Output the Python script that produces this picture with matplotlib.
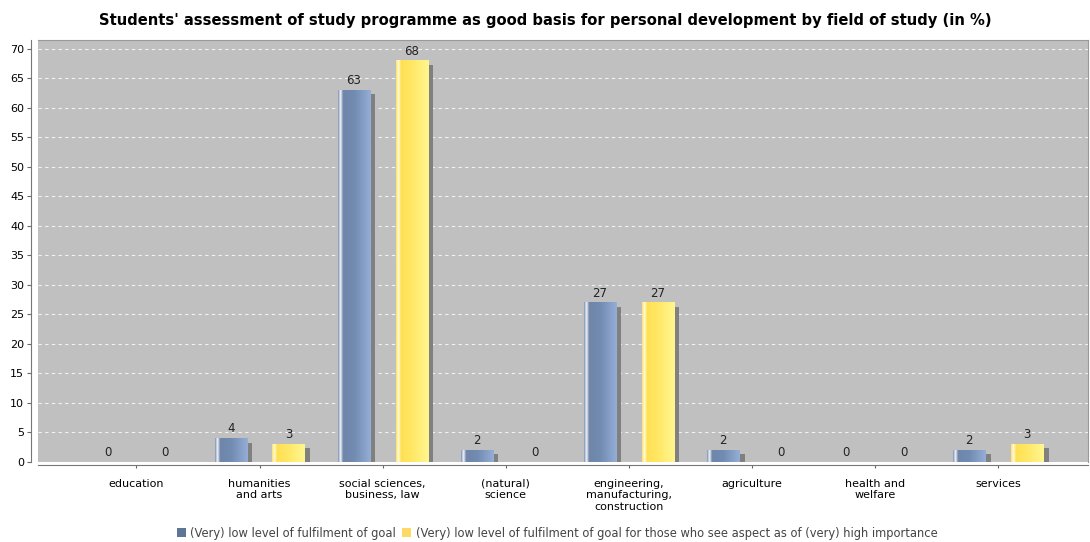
import numpy as np
import matplotlib.pyplot as plt
from matplotlib.patches import Rectangle
from matplotlib.colors import LinearSegmentedColormap

categories = ['education', 'humanities\nand arts', 'social sciences,\nbusiness, law',
              '(natural)\nscience', 'engineering,\nmanufacturing,\nconstruction',
              'agriculture', 'health and\nwelfare', 'services']
low_fulfilment = [0, 4, 63, 2, 27, 2, 0, 2]
low_fulfilment_important = [0, 3, 68, 0, 27, 0, 0, 3]
series_names = ['(Very) low level of fulfilment of goal',
                '(Very) low level of fulfilment of goal for those who see aspect as of (very) high importance']

fig = plt.figure(figsize=(10.9, 5.42), dpi=100)
ax = fig.add_axes([38 / 1090, 1 - 462 / 542, 1050 / 1090, 422 / 542])
ax.set_facecolor('#c0c0c0')

x = np.arange(len(categories))
w = 0.26
off = 0.235

blue_cmap = LinearSegmentedColormap.from_list(
    'b', [(0, '#8297b8'), (0.07, '#f4f6fa'), (0.15, '#6f86aa'), (0.5, '#728bb1'), (1, '#95aed6')])
yel_cmap = LinearSegmentedColormap.from_list(
    'y', [(0, '#ffe46a'), (0.07, '#fffbe0'), (0.15, '#ffe052'), (0.5, '#ffe866'), (1, '#fff690')])
grad = np.linspace(0, 1, 64).reshape(1, -1)

# shadow offset in data units
sx = 0.045
sy = 0.7

for vals, sign, cmap in [(low_fulfilment, -1, blue_cmap), (low_fulfilment_important, 1, yel_cmap)]:
    for xi, v in zip(x, vals):
        if v <= 0:
            continue
        left = xi + sign * off - w / 2
        ax.add_patch(Rectangle((left + sx, 0), w, v - sy, facecolor='#808080', edgecolor='none', zorder=2))
        ax.imshow(grad, cmap=cmap, aspect='auto', extent=(left, left + w, 0, v), zorder=3)
        ax.text(left + w / 2, v + 0.5, str(v), ha='center', va='bottom', fontsize=8.5, color='#222222', zorder=4)
    for xi, v in zip(x, vals):
        if v == 0:
            ax.text(xi + sign * off, 0.5, '0', ha='center', va='bottom', fontsize=8.5, color='#222222', zorder=4)

ax.set_xlim(-0.8, 7.73)
ax.set_ylim(0, 71.5)
ax.set_yticks(range(0, 71, 5))
ax.yaxis.grid(True, color='white', linestyle=(0, (3, 3)), linewidth=0.8, alpha=0.8)
ax.set_axisbelow(True)
ax.set_xticks(x)
ax.set_xticklabels(categories, linespacing=1.05)
ax.tick_params(axis='y', labelsize=8, length=3, color='#666666', pad=2)
ax.tick_params(axis='x', labelsize=8, length=2, color='#666666', pad=8)

for s in ['top', 'right']:
    ax.spines[s].set_color('#999999')
ax.spines['left'].set_position(('outward', 5))
ax.spines['bottom'].set_position(('outward', 2))
ax.spines['left'].set_color('#777777')
ax.spines['bottom'].set_color('#777777')

fig.text(0.5, 1 - 20 / 542, "Students' assessment of study programme as good basis for personal development by field of study (in %)",
         ha='center', va='center', fontsize=10.6, fontweight='bold')

handles = [Rectangle((0, 0), 1, 1, facecolor='#5f7595'),
           Rectangle((0, 0), 1, 1, facecolor='#ffd966')]
fig.legend(handles, series_names, loc='center', bbox_to_anchor=(0.511, 1 - 533 / 542), ncol=2,
           frameon=False, fontsize=8.3, handlelength=0.8, handleheight=0.8, handletextpad=0.4,
           columnspacing=0.5, labelcolor='#444444')

fig.savefig('out.png', dpi=100, facecolor='white')
